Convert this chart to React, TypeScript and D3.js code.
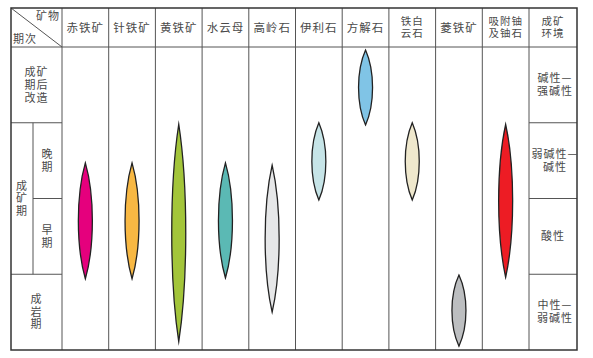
import React, { useEffect, useRef } from 'react';
import * as d3 from 'd3';

// minerals (columns) and their header text, split into lines
const minerals = ['赤铁矿', '针铁矿', '黄铁矿', '水云母', '高岭石', '伊利石', '方解石', '铁白云石', '菱铁矿', '吸附铀及铀石'];
const headerLines = [['赤铁矿'], ['针铁矿'], ['黄铁矿'], ['水云母'], ['高岭石'], ['伊利石'], ['方解石'], ['铁白', '云石'], ['菱铁矿'], ['吸附铀', '及铀石']];

// stages, top to bottom (one unit of the stage scale each)
const stages = ['成矿期后改造', '晚期', '早期', '成岩期'];
const envLabels = [['碱性—', '强碱性'], ['弱碱性—', '碱性'], ['酸性'], ['中性—', '弱碱性']];

// time span of each mineral, in stage units (0 = top of 成矿期后改造, 4 = bottom of 成岩期)
const spanStart = [1.53, 1.53, 1.02, 1.53, 1.56, 1.0, 0.04, 1.0, 3.01, 1.02];
const spanEnd = [3.06, 3.06, 3.89, 3.05, 3.5, 2.02, 1.03, 2.02, 3.95, 3.04];
const colors = ['#e5007d', '#f8b843', '#a3c53a', '#5bb9b4', '#e6e7e8', '#c6e4e7', '#80c4e6', '#efe8cd', '#bcbec0', '#ed1c24'];

const W = 593;
const H = 358;

export default function App() {
  const ref = useRef<SVGSVGElement>(null);

  useEffect(() => {
    const svg = d3.select(ref.current);
    svg.selectAll('*').remove();

    const left = 11, right = 577, top = 8, bottom = 350, headBottom = 47;
    const firstCol = 62, innerCol = 33, envCol = 529;
    const font = "'Noto Sans CJK SC', sans-serif";
    const textColor = '#4a4a4a';
    const lineColor = '#555';

    const x = d3.scaleBand().domain(minerals).range([firstCol, envCol]);
    const y = d3.scaleLinear().domain([0, stages.length]).range([headBottom, bottom]);

    const g = svg.append('g');

    // table lines
    const line = (x1, y1, x2, y2, w = 1) =>
      g.append('line').attr('x1', x1).attr('y1', y1).attr('x2', x2).attr('y2', y2)
        .attr('stroke', lineColor).attr('stroke-width', w);

    line(left, headBottom, right, headBottom);
    // column separators
    minerals.forEach((m) => line(x(m)!, top, x(m)!, bottom));
    line(envCol, top, envCol, bottom);
    // stage boundaries in the left and env columns
    [1, 2, 3].forEach((s) => {
      if (s === 2) line(innerCol, y(s), firstCol, y(s));
      else line(left, y(s), firstCol, y(s));
      line(envCol, y(s), right, y(s));
    });
    line(innerCol, y(1), innerCol, y(3));
    // diagonal in header corner
    line(left, top, firstCol, headBottom);
    // outer border
    g.append('rect').attr('x', left).attr('y', top).attr('width', right - left).attr('height', bottom - top)
      .attr('fill', 'none').attr('stroke', '#333').attr('stroke-width', 1.5);

    // each line is its own <text>
    const text = (lines, cx, cy, lh = 13, size = 11) => {
      lines.forEach((l, i) => {
        g.append('text').attr('font-family', font).attr('font-size', size)
          .attr('fill', textColor).attr('text-anchor', 'middle').attr('letter-spacing', 1)
          .attr('x', cx).attr('y', cy + (i - (lines.length - 1) / 2) * lh)
          .attr('dy', '0.35em').text(l);
      });
    };

    // headers
    headerLines.forEach((lines, i) => {
      const multi = lines.length > 1;
      text(lines, x(minerals[i])! + x.bandwidth() / 2, (top + headBottom) / 2, 12.5, multi ? 10.5 : 11.5);
    });
    text(['成矿', '环境'], (envCol + right) / 2, (top + headBottom) / 2, 12.5, 10.5);
    text(['矿物'], 48, 16);
    text(['期次'], 25, 39);

    // stage labels
    text(['成矿', '期后', '改造'], (left + firstCol) / 2, (y(0) + y(1)) / 2);
    text(['晚', '期'], (innerCol + firstCol) / 2, (y(1) + y(2)) / 2);
    text(['早', '期'], (innerCol + firstCol) / 2, (y(2) + y(3)) / 2);
    text(['成', '矿', '期'], (left + innerCol) / 2, (y(1) + y(3)) / 2, 12.5);
    text(['成', '岩', '期'], (left + firstCol) / 2, (y(3) + y(4)) / 2, 12.5);

    // environment labels
    envLabels.forEach((lines, i) => {
      text(lines, (envCol + right) / 2 + (lines[0].endsWith('—') ? 2 : 0), (y(i) + y(i + 1)) / 2);
    });

    // lens-shaped mineral ranges
    const halfWidth = 7;
    minerals.forEach((m, i) => {
      const cx = x(m)! + x.bandwidth() / 2;
      const y0 = y(spanStart[i]);
      const y1 = y(spanEnd[i]);
      const c = halfWidth / 0.75;
      const h = y1 - y0;
      const p = d3.path();
      p.moveTo(cx, y0);
      p.bezierCurveTo(cx + c, y0 + h * 0.28, cx + c, y1 - h * 0.28, cx, y1);
      p.bezierCurveTo(cx - c, y1 - h * 0.28, cx - c, y0 + h * 0.28, cx, y0);
      p.closePath();
      g.append('path').attr('d', p.toString()).attr('fill', colors[i])
        .attr('stroke', '#222').attr('stroke-width', 1.3).attr('stroke-linejoin', 'miter')
        .attr('stroke-miterlimit', 20);
    });
  }, []);

  return (
    <svg ref={ref} width={W} height={H} style={{ position: 'absolute', left: 0, top: 0, background: '#fff' }} />
  );
}
